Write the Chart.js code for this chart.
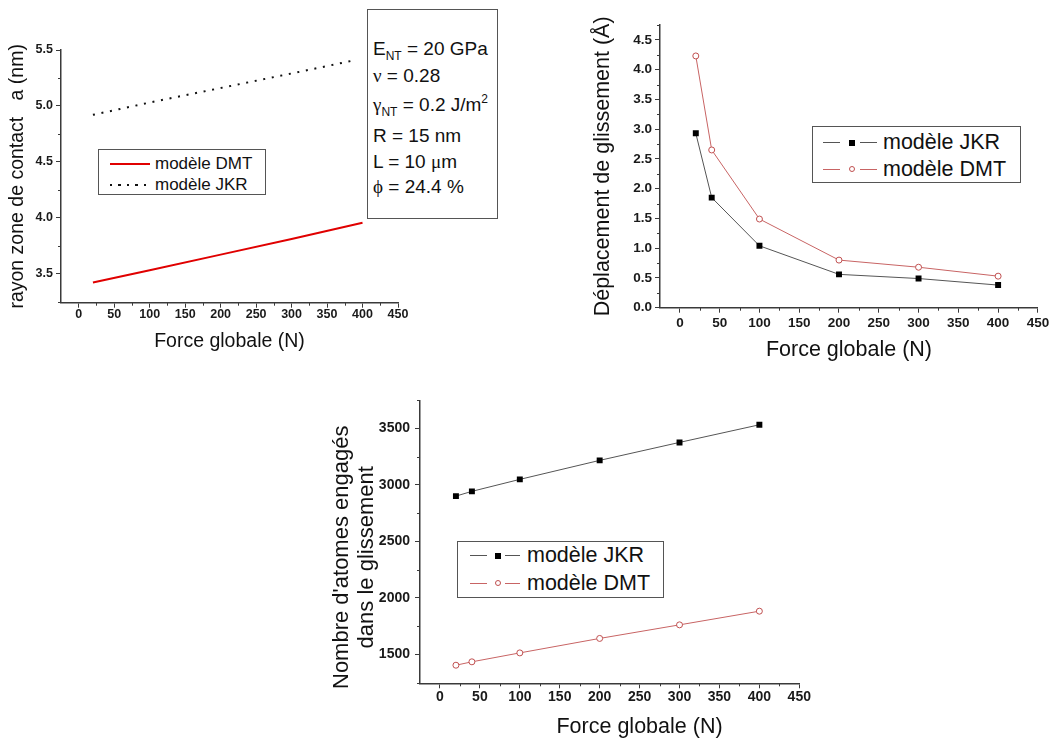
<!DOCTYPE html>
<html><head><meta charset="utf-8">
<script src="https://cdn.jsdelivr.net/npm/chart.js@4.4.0/dist/chart.umd.min.js"></script>
<style>
html,body{margin:0;padding:0;background:#fff;width:1053px;height:740px;overflow:hidden;font-family:"Liberation Sans",Arial,sans-serif;color:#111;}
.wrap{position:absolute;}
.box{position:absolute;border:1px solid #555;box-sizing:border-box;background:#fff;}
.t{position:absolute;white-space:pre;color:#111;}
.g{font-family:"Liberation Serif","DejaVu Serif",serif;line-height:0;}
sub,sup{font-size:12px;line-height:0;}
sub{vertical-align:-5px;}
sup{vertical-align:8px;}
.seg{position:absolute;height:0;}
.mk{position:absolute;box-sizing:border-box;}
</style></head><body>

<div class="wrap" style="left:0;top:0;width:420px;height:365px"><canvas id="c1" width="420" height="365"></canvas></div>
<div class="wrap" style="left:580px;top:0;width:473px;height:370px"><canvas id="c2" width="473" height="370"></canvas></div>
<div class="wrap" style="left:320px;top:385px;width:500px;height:355px"><canvas id="c3" width="500" height="355"></canvas></div>

<!-- parameter box -->
<div class="box" style="left:367px;top:9px;width:131px;height:210px"></div>
<div class="t" style="left:373px;top:38.9px;font-size:19px;line-height:19px">E<sub>NT</sub> = 20 GPa</div>
<div class="t" style="left:373px;top:65.9px;font-size:19px;line-height:19px"><span class="g">ν</span> = 0.28</div>
<div class="t" style="left:373px;top:94.9px;font-size:19px;line-height:19px"><span class="g">γ</span><sub>NT</sub> = 0.2 J/m<sup>2</sup></div>
<div class="t" style="left:373px;top:125.9px;font-size:19px;line-height:19px">R = 15 nm</div>
<div class="t" style="left:373px;top:151.9px;font-size:19px;line-height:19px">L = 10 <span class="g">μ</span>m</div>
<div class="t" style="left:373px;top:176.9px;font-size:19px;line-height:19px"><span class="g">ϕ</span> = 24.4 %</div>

<div id="legends"></div>

<script>
// ---------- data ----------
const xTicks = [0, 50, 100, 150, 200, 250, 300, 350, 400, 450];

// Chart 1 : contact radius
const forceDMT1 = [20, 100, 200, 300, 400];
const radiusDMT = [3.42, 3.53, 3.67, 3.81, 3.955];
const forceJKR1 = [20, 100, 200, 300, 390];
const radiusJKR = [4.92, 5.03, 5.16, 5.29, 5.41];
const yTicks1 = [3.5, 4.0, 4.5, 5.0, 5.5];

// Chart 2 : slip displacement
const force2 = [20, 40, 100, 200, 300, 400];
const slipJKR = [2.93, 1.85, 1.04, 0.56, 0.49, 0.38];
const slipDMT = [4.23, 2.65, 1.49, 0.80, 0.68, 0.53];
const yTicks2 = [0, 0.5, 1.0, 1.5, 2.0, 2.5, 3.0, 3.5, 4.0, 4.5];

// Chart 3 : number of atoms
const force3 = [20, 40, 100, 200, 300, 400];
const atomsJKR = [2901, 2943, 3049, 3217, 3376, 3532];
const atomsDMT = [1405, 1435, 1514, 1642, 1762, 1883];
const yTicks3 = [1500, 2000, 2500, 3000, 3500];

const labelJKR = 'modèle JKR';
const labelDMT = 'modèle DMT';

// ---------- helpers ----------
const FAM = '"Liberation Sans", Arial, sans-serif';
const AX = '#3a3a3a';
function pts(xs, ys) { return xs.map((x, i) => ({x: x, y: ys[i]})); }
function mids(t) { const m = []; for (let i = 0; i < t.length - 1; i++) m.push((t[i] + t[i+1]) / 2); return m; }

const minorTicks = {
  id: 'minorTicks',
  afterDraw(chart, args, o) {
    const ctx = chart.ctx, xs = chart.scales.x, ys = chart.scales.y;
    ctx.save();
    ctx.strokeStyle = AX; ctx.lineWidth = 1;
    (o.x || []).forEach(v => {
      const p = Math.round(xs.getPixelForValue(v)) + 0.5;
      ctx.beginPath(); ctx.moveTo(p, ys.bottom); ctx.lineTo(p, ys.bottom + 3); ctx.stroke();
    });
    (o.y || []).forEach(v => {
      const p = Math.round(ys.getPixelForValue(v)) + 0.5;
      ctx.beginPath(); ctx.moveTo(xs.left, p); ctx.lineTo(xs.left - 3, p); ctx.stroke();
    });
    ctx.restore();
  }
};

function scales(c) {
  return {
    x: {
      type: 'linear', min: -25, max: 450,
      afterBuildTicks: s => { s.ticks = xTicks.map(v => ({value: v})); },
      afterFit: s => { s.height = c.xH; },
      grid: {drawOnChartArea: false, drawTicks: true, tickLength: 5, color: AX, lineWidth: 1},
      border: {display: true, color: AX, width: 1.5},
      ticks: {font: {family: FAM, size: c.tick, weight: 'bold', lineHeight: 1}, color: '#1a1a1a',
              padding: c.xPad, maxRotation: 0, autoSkip: false, callback: v => String(v)},
      title: {display: true, text: c.xTitle, color: '#111',
              font: {family: FAM, size: c.xTS, lineHeight: 1}, padding: {top: 0, bottom: c.xTPad}}
    },
    y: {
      type: 'linear', min: c.yMin, max: c.yMax,
      afterBuildTicks: s => { s.ticks = c.yTicks.map(v => ({value: v})); },
      afterFit: s => { s.width = c.yW; },
      grid: {drawOnChartArea: false, drawTicks: true, tickLength: 5, color: AX, lineWidth: 1},
      border: {display: true, color: AX, width: 1.5},
      ticks: {font: {family: FAM, size: c.tick, weight: 'bold', lineHeight: 1}, color: '#1a1a1a',
              padding: c.yPad, autoSkip: false, callback: c.fmt},
      title: {display: true, text: c.yTitle, color: '#111',
              font: {family: FAM, size: c.yTS, lineHeight: c.yLH || 1}, padding: {top: c.yTPad, bottom: 0}}
    }
  };
}

function base(padding) {
  return {
    responsive: false, animation: false, devicePixelRatio: 1,
    layout: {padding: padding},
    plugins: {legend: {display: false}, tooltip: {enabled: false}},
  };
}

// ---------- chart 1 ----------
const o1 = base({left: 0, top: 50, right: 22, bottom: 0});
o1.scales = scales({xH: 62.3, yW: 61, tick: 12.5, xPad: 1, yPad: 3,
  xTitle: 'Force globale (N)', xTS: 19.5, xTPad: 13.25,
  yTitle: 'rayon zone de contact   a (nm)', yTS: 19.5, yTPad: 8.25,
  yMin: 3.24, yMax: 5.5, yTicks: yTicks1, fmt: v => Number(v).toFixed(1)});
o1.plugins.minorTicks = {x: mids(xTicks), y: mids(yTicks1).concat([3.25])};
const ch1 = new Chart(document.getElementById('c1'), {
  type: 'line',
  data: {datasets: [
    {label: labelDMT, data: pts(forceDMT1, radiusDMT), borderColor: '#e00000', borderWidth: 2, pointRadius: 0, tension: 0, fill: false},
    {label: labelJKR, data: pts(forceJKR1, radiusJKR), borderColor: '#111', borderWidth: 2, borderDash: [2, 6.7], pointRadius: 0, tension: 0, fill: false}
  ]},
  options: o1, plugins: [minorTicks]
});

// ---------- chart 2 ----------
const o2 = base({left: 0, top: 25, right: 11.3, bottom: 0});
o2.scales = scales({xH: 62.3, yW: 80, tick: 13.5, xPad: 3.85, yPad: 3,
  xTitle: 'Force globale (N)', xTS: 21.5, xTPad: 9.25,
  yTitle: 'Déplacement de glissement (Å)', yTS: 21.5, yTPad: 12.25,
  yMin: 0, yMax: 4.75, yTicks: yTicks2, fmt: v => Number(v).toFixed(1)});
o2.plugins.minorTicks = {x: mids(xTicks), y: mids(yTicks2).concat([4.75])};
const jkrStyle = {borderColor: '#555', borderWidth: 1, pointStyle: 'rect', pointRadius: 4.2,
  pointBackgroundColor: '#000', pointBorderColor: '#000', pointBorderWidth: 0, tension: 0, fill: false};
const dmtStyle = {borderColor: '#c86464', borderWidth: 1, pointStyle: 'circle', pointRadius: 3,
  pointBackgroundColor: '#fff', pointBorderColor: '#c05050', pointBorderWidth: 1, tension: 0, fill: false};
const ch2 = new Chart(document.getElementById('c2'), {
  type: 'line',
  data: {datasets: [
    Object.assign({label: labelJKR, data: pts(force2, slipJKR)}, jkrStyle),
    Object.assign({label: labelDMT, data: pts(force2, slipDMT)}, dmtStyle)
  ]},
  options: o2, plugins: [minorTicks]
});

// ---------- chart 3 ----------
const o3 = base({left: 0, top: 15.7, right: 20.7, bottom: 0});
o3.scales = scales({xH: 56.7, yW: 100, tick: 14, xPad: 1.4, yPad: 5,
  xTitle: '          Force globale (N)', xTS: 21.5, xTPad: 2.55,
  yTitle: ["Nombre d'atomes engagés     ", 'dans le glissement     '], yTS: 22, yLH: 25/22, yTPad: 9.2,
  yMin: 1245, yMax: 3745, yTicks: yTicks3, fmt: v => String(v)});
o3.plugins.minorTicks = {x: mids(xTicks), y: mids(yTicks3).concat([1250, 3750])};
const ch3 = new Chart(document.getElementById('c3'), {
  type: 'line',
  data: {datasets: [
    Object.assign({label: labelJKR, data: pts(force3, atomsJKR)}, jkrStyle),
    Object.assign({label: labelDMT, data: pts(force3, atomsDMT)}, dmtStyle)
  ]},
  options: o3, plugins: [minorTicks]
});

// ---------- HTML legends ----------
const L = document.getElementById('legends');
function el(cls, css, html) {
  const d = document.createElement('div'); d.className = cls; d.style.cssText = css;
  if (html !== undefined) d.textContent = html; L.appendChild(d); return d;
}
function legendBox(b, rows) {
  el('box', `left:${b.l}px;top:${b.t}px;width:${b.w}px;height:${b.h}px`);
  rows.forEach(r => {
    r.segs.forEach(s => {
      if (s.dots) {
        el('seg', `left:${s.a}px;top:${r.y - 1}px;width:${s.b - s.a}px;height:2px;background:repeating-linear-gradient(to right, ${s.c} 0 2px, transparent 2px 8.5px)`);
      } else {
        el('seg', `left:${s.a}px;top:${r.y - s.w / 2}px;width:${s.b - s.a}px;height:${s.w}px;background:${s.c}`);
      }
    });
    if (r.mk === 'sq') el('mk', `left:${r.mx - 3}px;top:${r.y - 3}px;width:6px;height:6px;background:#000`);
    if (r.mk === 'ci') el('mk', `left:${r.mx - 3}px;top:${r.y - 3}px;width:6px;height:6px;border:1px solid #c05050;border-radius:50%;background:#fff`);
    el('t', `left:${r.tx}px;top:${r.y - r.fs / 2}px;font-size:${r.fs}px;line-height:${r.fs}px`, r.label);
  });
}
const d1 = ch1.data.datasets, d2 = ch2.data.datasets, d3 = ch3.data.datasets;
legendBox({l: 98, t: 149, w: 168, h: 46}, [
  {y: 163.5, segs: [{a: 110, b: 150, w: 2, c: d1[0].borderColor}], tx: 155, fs: 17, label: d1[0].label},
  {y: 184.5, segs: [{a: 110, b: 150, dots: true, c: '#111'}], tx: 155, fs: 17, label: d1[1].label}
]);
legendBox({l: 812, t: 126, w: 209, h: 57}, [
  {y: 142.7, segs: [{a: 823, b: 840, w: 1, c: '#555'}, {a: 860, b: 877, w: 1, c: '#555'}], mk: 'sq', mx: 851.7, tx: 883, fs: 21.5, label: d2[0].label},
  {y: 169.3, segs: [{a: 823, b: 840, w: 1, c: '#c86464'}, {a: 860, b: 877, w: 1, c: '#c86464'}], mk: 'ci', mx: 851.7, tx: 883, fs: 21.5, label: d2[1].label}
]);
legendBox({l: 457, t: 541, w: 207, h: 57}, [
  {y: 555.7, segs: [{a: 470, b: 487, w: 1, c: '#555'}, {a: 505, b: 520, w: 1, c: '#555'}], mk: 'sq', mx: 498.3, tx: 527, fs: 21.5, label: d3[0].label},
  {y: 583.3, segs: [{a: 470, b: 487, w: 1, c: '#c86464'}, {a: 505, b: 520, w: 1, c: '#c86464'}], mk: 'ci', mx: 498.3, tx: 527, fs: 21.5, label: d3[1].label}
]);
</script>
</body></html>
